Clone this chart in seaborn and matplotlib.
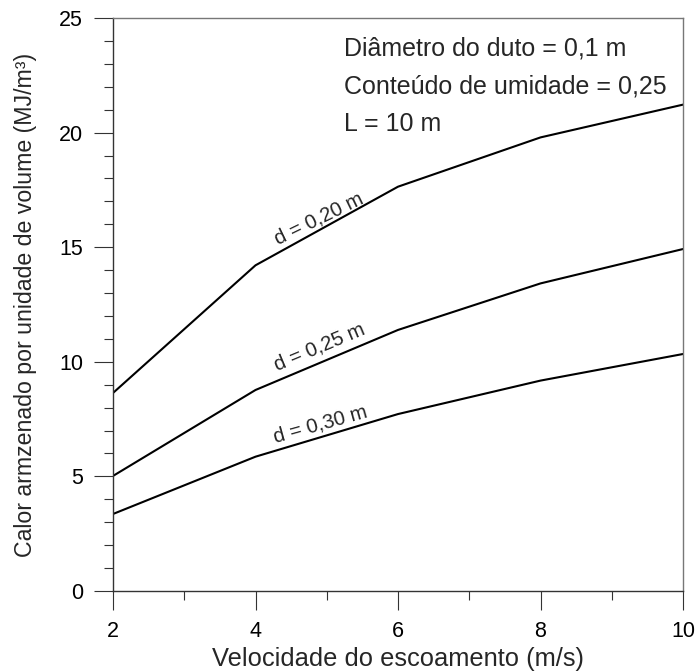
import matplotlib
matplotlib.use("Agg")
import matplotlib.pyplot as plt
import seaborn as sns
import pandas as pd
from matplotlib.ticker import MultipleLocator

velocidade = [2, 4, 6, 8, 10]
calor_d020 = [8.64, 14.21, 17.64, 19.79, 21.22]
calor_d025 = [5.02, 8.77, 11.39, 13.42, 14.92]
calor_d030 = [3.36, 5.86, 7.72, 9.18, 10.34]
series_labels = ["d = 0,20 m", "d = 0,25 m", "d = 0,30 m"]
info_lines = ["Diâmetro do duto = 0,1 m", "Conteúdo de umidade = 0,25", "L = 10 m"]

sns.set_style("ticks")
plt.rcParams['font.family'] = ['Liberation Sans', 'DejaVu Sans']

df = pd.DataFrame({
    "v": velocidade * 3,
    "q": calor_d020 + calor_d025 + calor_d030,
    "s": [series_labels[0]] * 5 + [series_labels[1]] * 5 + [series_labels[2]] * 5,
})

fig = plt.figure(figsize=(6.97, 6.72), dpi=100)
ax = fig.add_axes([113/697, 1 - 591/672, (683-113)/697, (591-18)/672])

sns.lineplot(data=df, x="v", y="q", units="s", estimator=None, color="black",
             linewidth=1.5, ax=ax, legend=False)

ax.set_xlim(2, 10)
ax.set_ylim(0, 25)
ax.xaxis.set_major_locator(MultipleLocator(2))
ax.xaxis.set_minor_locator(MultipleLocator(1))
ax.yaxis.set_major_locator(MultipleLocator(5))
ax.yaxis.set_minor_locator(MultipleLocator(1))
ax.tick_params(which="major", direction="out", length=13.5, width=0.8, color="#333333",
               labelsize=15.5, pad=8, labelcolor="black")
ax.tick_params(which="minor", direction="out", length=6.5, width=0.8, color="#333333")
for side in ["top", "right"]:
    ax.spines[side].set_color("#777777")
    ax.spines[side].set_linewidth(1.0)
for side in ["left", "bottom"]:
    ax.spines[side].set_color("#333333")
    ax.spines[side].set_linewidth(1.0)

ax.set_xlabel("Velocidade do escoamento (m/s)", fontsize=18.4, labelpad=4)
ax.set_ylabel("Calor armzenado por unidade de volume (MJ/m³)", fontsize=16.7, labelpad=16)

# curve labels (baseline midpoint, rotation)
label_pos = [(4.922, 16.02, 26), (4.933, 10.43, 22.7), (4.929, 7.04, 15.6)]
for lab, (x, y, rot) in zip(series_labels, label_pos):
    ax.text(x, y, lab, rotation=rot, ha="center", va="baseline", fontsize=14.7,
            rotation_mode="anchor")

for i, line in enumerate(info_lines):
    ax.text(0.405, 0.9354 - i * 0.0663, line, transform=ax.transAxes, fontsize=18,
            ha="left", va="baseline")

fig.savefig("out.png", dpi=100)
